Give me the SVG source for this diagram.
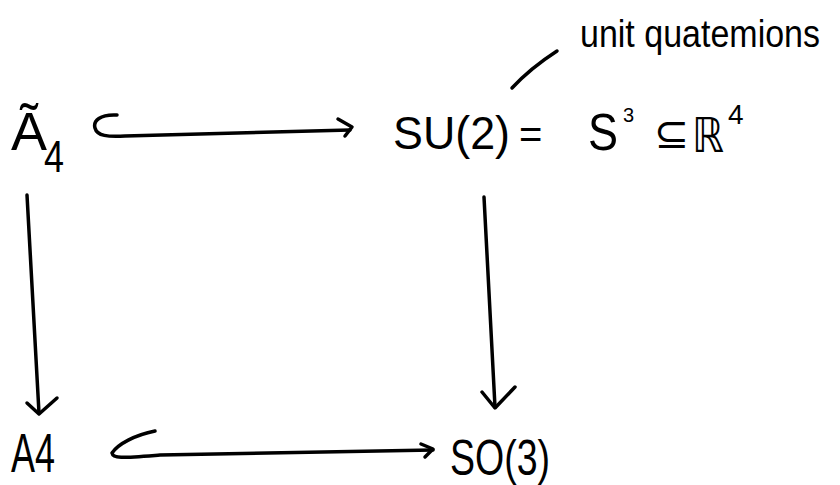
<svg xmlns="http://www.w3.org/2000/svg" width="840" height="485" viewBox="0 0 840 485">
<style>
.t{font-family:"Liberation Sans","DejaVu Sans",sans-serif;fill:#000}
.ln{fill:none;stroke:#000;stroke-width:3.5;stroke-linecap:round;stroke-linejoin:round}
</style>
<rect width="840" height="485" fill="#fff"/>
<g id="connectors">
<path class="ln" d="M117,115 C100,114 93,121 95,128 C97,136 108,137 125,136 L350,130"/>
<path class="ln" d="M338,119 L352,127 L345,136"/>
<path class="ln" d="M155,431 C135,435 118,444 112,453 C113,459 122,458 160,455 L433,450"/>
<path class="ln" d="M421,444 L433,449 L425,457"/>
<path class="ln" d="M27,195 L39,413"/>
<path class="ln" d="M27,403 L39,414 L57,398"/>
<path class="ln" d="M484,197 L495,407"/>
<path class="ln" d="M482,392 L495,408 L515,387"/>
<path class="ln" d="M512,88 C525,74 540,62 557,51"/>
</g>
<g id="node-A4tilde">
<text class="t" x="11" y="150" font-size="54" textLength="36" lengthAdjust="spacingAndGlyphs">Ã</text>
<text class="t" x="44" y="172" font-size="44" textLength="20" lengthAdjust="spacingAndGlyphs">4</text>
</g>
<g id="node-SU2">
<text class="t" x="393" y="149" font-size="47" textLength="117" lengthAdjust="spacingAndGlyphs">SU(2)</text>
<text class="t" x="519" y="148" font-size="40">=</text>
<text class="t" x="588" y="150" font-size="52" textLength="30" lengthAdjust="spacingAndGlyphs">S</text>
<text class="t" x="623" y="122" font-size="20">3</text>
<text class="t" x="654" y="148" font-size="42">⊆</text>
<text class="t" x="692" y="152" font-size="48" textLength="32" lengthAdjust="spacingAndGlyphs">ℝ</text>
<text class="t" x="728" y="124" font-size="28">4</text>
</g>
<g id="label-unit-quaternions">
<text class="t" transform="translate(580,47) scale(1,1.2)" x="0" y="0" font-size="33" textLength="240" lengthAdjust="spacingAndGlyphs">unit quatemions</text>
</g>
<g id="node-A4">
<text class="t" x="11" y="472" font-size="56" textLength="44" lengthAdjust="spacingAndGlyphs">A4</text>
</g>
<g id="node-SO3">
<text class="t" x="450" y="475" font-size="50" textLength="100" lengthAdjust="spacingAndGlyphs">SO(3)</text>
</g>
</svg>
